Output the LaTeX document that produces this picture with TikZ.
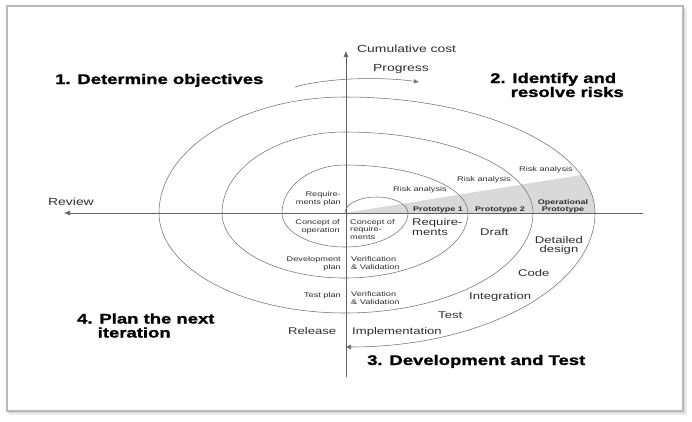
\documentclass[tikz,border=0pt]{standalone}
\usepackage{fontspec}
\setmainfont{Liberation Sans}[FakeStretch=1.35]
\newfontfamily\headfont{Liberation Sans}[FakeStretch=1.32, BoldFeatures={FakeBold=1.3}]
\usetikzlibrary{arrows.meta}
\begin{document}
\begin{tikzpicture}[x=1pt,y=1pt,
  lbl/.style={inner sep=0pt, text=black!82},
  small/.style={lbl, font=\fontsize{6.8}{7.2}\selectfont},
  smallb/.style={lbl, font=\bfseries\fontsize{6.7}{7}\selectfont},
  mid/.style={lbl, font=\fontsize{9.7}{10}\selectfont},
  big/.style={lbl, font=\fontsize{10.3}{12}\selectfont},
  head/.style={inner sep=0pt, text=black, align=left, font=\headfont\bfseries\fontsize{14}{14}\selectfont},
  spiral/.style={draw=black!55, line width=0.55pt},
  axis/.style={draw=black!62, line width=0.6pt},
  tip/.style={-{Latex[length=6pt,width=5pt]}}
]
% page and frame
\fill[white] (0,0) rectangle (692,-421);
\fill[black!8] (9,-9) rectangle (687,-415);
\fill[black!16] (8,-8) rectangle (685,-413);
\draw[black!28, line width=1.6pt, fill=white] (7,-6) rectangle (683,-411);

% shaded prototype wedge
\fill[black!15] (345,-213) -- (581.2,-175)
  arc[start angle=19.1, end angle=0, x radius=250pt, y radius=116pt] -- cycle;

% axes
\coordinate (vbot) at (346,-377);
\coordinate (vtop) at (346,-51);
\coordinate (hright) at (643,-213);
\coordinate (hleft) at (64,-213);
\draw[axis,tip] (vbot) -- (vtop);
\draw[axis,tip] (hright) -- (hleft);

% progress arrow
\coordinate (pa) at (295,-87);
\coordinate (pb) at (419,-82);
\draw[spiral,-{Latex[length=5pt,width=4.5pt]}] (pa) .. controls (330,-77) and (385,-77) .. (pb);

% spiral
\coordinate (origin) at (345,-213);
\draw[spiral,tip] (origin)
  arc[start angle=180, end angle=0,   x radius=31.5pt, y radius=16pt]
  arc[start angle=0,   end angle=-90, x radius=63pt,  y radius=34pt]
  arc[start angle=270, end angle=180, x radius=63pt,  y radius=34pt]
  arc[start angle=180, end angle=90,  x radius=63pt,  y radius=48pt]
  arc[start angle=90,  end angle=0,   x radius=123pt, y radius=48pt]
  arc[start angle=0,   end angle=-90, x radius=123pt, y radius=65pt]
  arc[start angle=270, end angle=180, x radius=123pt, y radius=65pt]
  arc[start angle=180, end angle=90,  x radius=123pt, y radius=81pt]
  arc[start angle=90,  end angle=0,   x radius=188pt, y radius=81pt]
  arc[start angle=0,   end angle=-90, x radius=188pt, y radius=100pt]
  arc[start angle=270, end angle=180, x radius=186pt, y radius=100pt]
  arc[start angle=180, end angle=90,  x radius=186pt, y radius=116pt]
  arc[start angle=90,  end angle=0,   x radius=250pt, y radius=116pt]
  arc[start angle=0,   end angle=-90, x radius=250pt, y radius=134pt];

% headings
\node[head, anchor=base west] (h1) at (55,-84) {1. Determine objectives};
\node[head, anchor=west] (h2) at (490,-85) {2. Identify and\\\hphantom{2.\ }resolve risks};
\node[head, anchor=base west] (h3) at (367,-365) {3. Development and Test};
\node[head, anchor=west] (h4) at (77,-325.5) {4. Plan the next\\\hphantom{4.\ }iteration};

% axis labels
\node[big, anchor=base west] (cum) at (357,-52) {Cumulative cost};
\node[big, anchor=base west] (prog) at (373,-71) {Progress};
\node[big, anchor=base west] (rev) at (48,-205) {Review};

% small labels, left of axis
\node[small, anchor=east, align=right] (reqp) at (341,-198.8) {Require-\\ments plan};
\node[small, anchor=east, align=right] (cop) at (340,-226.8) {Concept of\\operation};
\node[small, anchor=east, align=right] (devp) at (341,-263.8) {Development\\plan};
\node[small, anchor=base east] (testp) at (341,-297.5) {Test plan};

% small labels, right of axis
\node[small, anchor=west, align=left] (creq) at (350,-229.5) {Concept of\\require-\\ments};
\node[small, anchor=west, align=left] (vv1) at (351,-263) {Verification\\\& Validation};
\node[small, anchor=west, align=left] (vv2) at (351,-298) {Verification\\\& Validation};
\node[small, anchor=base west] (ra1) at (393,-191.5) {Risk analysis};
\node[small, anchor=base west] (ra2) at (457,-181.5) {Risk analysis};
\node[small, anchor=base west] (ra3) at (519,-171.5) {Risk analysis};

% prototypes
\node[smallb, anchor=base west] (p1) at (413,-211.5) {Prototype 1};
\node[smallb, anchor=base west] (p2) at (475,-211.5) {Prototype 2};
\node[smallb, align=center] (op) at (563,-206.3) {Operational\\Prototype};

% medium labels
\node[mid, anchor=west, align=left] (reqm) at (412,-227) {Require-\\ments};
\node[mid, anchor=base west] (draft) at (480,-235.5) {Draft};
\node[mid, align=center, font=\fontsize{9.7}{9.5}\selectfont] (dd) at (559,-245.7) {Detailed\\design};
\node[mid, anchor=base west] (code) at (518,-276.5) {Code};
\node[mid, anchor=base west] (integ) at (469,-299.5) {Integration};
\node[mid, anchor=base west] (test) at (438,-318.5) {Test};
\node[mid, anchor=base west] (impl) at (352,-334.5) {Implementation};
\node[mid, anchor=base west] (rel) at (288,-334.5) {Release};
\end{tikzpicture}
\end{document}
